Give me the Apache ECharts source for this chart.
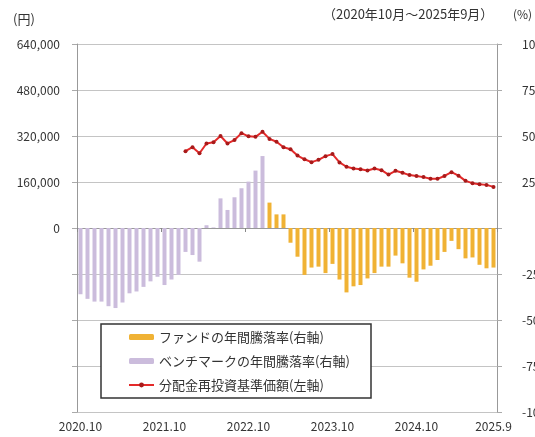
<!DOCTYPE html>
<html><head><meta charset="utf-8">
<script src="https://cdn.jsdelivr.net/npm/echarts@6/dist/echarts.min.js"></script>
<style>html,body{margin:0;padding:0;background:#fff}#c{width:535px;height:437px}</style>
</head><body><div id="c"></div>
<script>
const months = [
 '2020.10','2020.11','2020.12','2021.1','2021.2','2021.3','2021.4','2021.5','2021.6','2021.7','2021.8','2021.9',
 '2021.10','2021.11','2021.12','2022.1','2022.2','2022.3','2022.4','2022.5','2022.6','2022.7','2022.8','2022.9',
 '2022.10','2022.11','2022.12','2023.1','2023.2','2023.3','2023.4','2023.5','2023.6','2023.7','2023.8','2023.9',
 '2023.10','2023.11','2023.12','2024.1','2024.2','2024.3','2024.4','2024.5','2024.6','2024.7','2024.8','2024.9',
 '2024.10','2024.11','2024.12','2025.1','2025.2','2025.3','2025.4','2025.5','2025.6','2025.7','2025.8','2025.9'
];
const tickLabelIndex = [0, 12, 24, 36, 48, 59];
const tickLabelText = ['2020.10', '2021.10', '2022.10', '2023.10', '2024.10', '2025.9'];

// ベンチマークの年間騰落率(%) 右軸
const benchmark = [
 -36, -38.5, -40, -40, -42.5, -43.5, -40.5, -35.5, -34.5, -32, -29, -26.5,
 -31, -28, -25.5, -13, -14.7, -18.3, 1.5, 0.3, 16.1, 9.8, 16.7, 21.6,
 25.2, 31.2, 39.1, null, null, null, null, null, null, null, null, null,
 null, null, null, null, null, null, null, null, null, null, null, null,
 null, null, null, null, null, null, null, null, null, null, null, null
];
// ファンドの年間騰落率(%) 右軸
const fund = [
 null, null, null, null, null, null, null, null, null, null, null, null,
 null, null, null, null, null, null, null, null, null, null, null, null,
 null, null, null, 13.8, 7.4, 7.4, -8, -15.6, -25.5, -21.5, -21, -24.5,
 -19.5, -28, -35, -31.7, -31, -27.4, -24.5, -21, -21, -15, -19.2, -27,
 -29.2, -22.5, -20.5, -17.4, -13, -7, -11.5, -16.5, -16, -20, -21.9, -21.5
];
// 分配金再投資基準価額(円) 左軸
const nav = [
 null, null, null, null, null, null, null, null, null, null, null, null,
 null, null, null, 267000, 281000, 260000, 294000, 298000, 320000, 294000, 306000, 330000,
 319000, 317000, 335000, 310000, 300000, 281000, 274000, 252000, 239000, 229000, 237000, 250000,
 257000, 228000, 213000, 207000, 204000, 200000, 207000, 201000, 186000, 199000, 192000, 184000,
 181000, 177000, 171000, 171000, 181000, 194000, 182000, 164000, 156000, 152000, 150000, 143000
];
const names = ['ファンドの年間騰落率(右軸)', 'ベンチマークの年間騰落率(右軸)', '分配金再投資基準価額(左軸)'];

const FONT = '"Noto Sans CJK JP", "Noto Sans", sans-serif';
const chart = echarts.init(document.getElementById('c'), null, {renderer: 'canvas'});
chart.setOption({
  animation: false,
  backgroundColor: '#fff',
  textStyle: {fontFamily: FONT},
  grid: {left: 77, right: 38, top: 44, bottom: 25, containLabel: false, outerBoundsMode: 'none'},
  xAxis: [
    {type: 'category', data: months, position: 'bottom',
     axisLine: {show: true, onZero: true, lineStyle: {color: '#999', width: 1}},
     axisTick: {show: true, interval: 11, length: 4, lineStyle: {color: '#888'}},
     axisLabel: {show: false}, splitLine: {show: false}},
    {type: 'category', data: months, position: 'bottom',
     axisLine: {show: false, onZero: false}, axisTick: {show: false}, splitLine: {show: false},
     axisLabel: {show: true, margin: 8, fontSize: 12, color: '#333', fontFamily: FONT,
       interval: (idx) => tickLabelIndex.includes(idx),
       formatter: (v, idx) => tickLabelText[tickLabelIndex.indexOf(idx)] || ''}}
  ],
  yAxis: [
    {type: 'value', position: 'left', min: -640000, max: 640000, interval: 160000,
     axisLine: {show: true, lineStyle: {color: '#999'}},
     axisTick: {show: true, length: 5, lineStyle: {color: '#aaa'}},
     splitLine: {show: true, lineStyle: {color: '#c4c4c4', width: 1}},
     axisLabel: {margin: 17, fontSize: 12, color: '#333', fontFamily: FONT,
       formatter: (v) => v >= 0 ? v.toLocaleString('en-US') : ''}},
    {type: 'value', position: 'right', min: -100, max: 100, interval: 25,
     axisLine: {show: true, lineStyle: {color: '#999'}},
     axisTick: {show: true, length: 5, lineStyle: {color: '#aaa'}},
     splitLine: {show: false},
     axisLabel: {margin: 25, fontSize: 12, color: '#333', align: 'left', fontFamily: FONT,
       formatter: (v) => v === 0 ? '' : String(v)}}
  ],
  legend: {
    orient: 'vertical', left: 128, top: 330, padding: 0, itemGap: 10,
    itemWidth: 25, itemHeight: 6, z: 20,
    textStyle: {fontSize: 13, color: '#333', lineHeight: 14, fontFamily: FONT},
    data: names
  },
  graphic: [
    {type: 'rect', z: 10, shape: {x: 101, y: 324, width: 270, height: 74},
     style: {fill: '#fff', stroke: '#333', lineWidth: 1.5}},
    {type: 'text', left: 13, top: 13, style: {text: '(円)', fill: '#333', font: '13px ' + FONT}},
    {type: 'text', left: 323, top: 8, style: {text: '（2020年10月～2025年9月）', fill: '#333', font: '13px ' + FONT}},
    {type: 'text', left: 513, top: 8, style: {text: '(%)', fill: '#333', font: '12px ' + FONT}}
  ],
  series: [
    {name: names[1], type: 'bar', xAxisIndex: 0, yAxisIndex: 1, data: benchmark,
     barWidth: 4, itemStyle: {color: '#cbbcdc'}},
    {name: names[0], type: 'bar', xAxisIndex: 0, yAxisIndex: 1, data: fund,
     barWidth: 4, barGap: '-100%', itemStyle: {color: '#f0b234'}},
    {name: names[2], type: 'line', xAxisIndex: 0, yAxisIndex: 0, data: nav, z: 5,
     symbol: 'circle', symbolSize: 4, showSymbol: true,
     lineStyle: {color: '#e42a2a', width: 2}, itemStyle: {color: '#a81a1a'}}
  ]
});
</script></body></html>
